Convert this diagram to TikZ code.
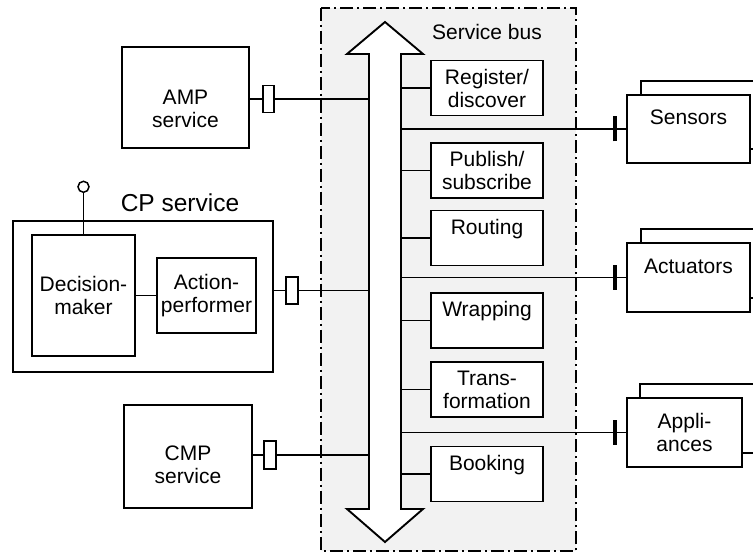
\documentclass[tikz,border=0pt]{standalone}
\usepackage{fontspec}
\setmainfont{Liberation Sans}
\usepackage{tikz}
\usetikzlibrary{positioning,shadows}

\newcommand{\boxfont}{\fontsize{21}{23}\selectfont}
\tikzset{
  box/.style={draw,line width=1.9pt,fill=white,inner sep=0pt,align=center,font=\boxfont},
  busbox/.style={box,minimum width=112pt,minimum height=55pt},
  device/.style={box,minimum width=123pt,minimum height=69pt,copy shadow={shadow xshift=14pt,shadow yshift=14pt}},
  plug/.style={draw,line width=1.5pt,fill=white,minimum width=11pt,minimum height=27pt,inner sep=0pt},
  wire/.style={line width=1.6pt},
  tbar/.style={line width=3.2pt},
}

\begin{document}
\begin{tikzpicture}[x=1pt,y=-1pt]
\useasboundingbox (0,0) rectangle (753,553);

% Service bus area
\draw[fill=black!5,line width=1.5pt,dash pattern=on 13pt off 4pt on 2pt off 4pt] (321,8) rectangle (576,551);
\node[font=\boxfont] (buslabel) at (487,32) {Service bus};

% Double arrow
\draw[line width=1.9pt,fill=white] (369,54) -- (347,54) -- (385,22) -- (423,54) -- (401,54)
  -- (401,509) -- (423,509) -- (385,542) -- (347,509) -- (369,509) -- cycle;
\coordinate (shaftL) at (369,300);
\coordinate (shaftR) at (401,300);

% Bus services
\node[busbox] (reg) at (487,88) {Register/\\discover};
\node[busbox] (pub) at (487,170.5) {Publish/\\subscribe};
\node[busbox] (rout) at (487,238) {Routing\\\mbox{}};
\node[busbox] (wrap) at (487,320.5) {Wrapping\\\mbox{}};
\node[busbox] (trans) at (487,389.5) {Trans-\\formation};
\node[busbox] (book) at (487,474) {Booking\\\mbox{}};
\foreach \b in {reg,pub,rout,wrap,trans,book}
    \draw[wire] (shaftR |- \b) -- (\b);

% Devices
\node[device,minimum height=68pt] (sensors) at (688.5,129) {Sensors\\\mbox{}};
\node[device] (actuators) at (688.5,277.5) {Actuators\\\mbox{}};
\node[device,minimum width=115pt,copy shadow={shadow xshift=13pt,shadow yshift=14pt}] (appl) at (684.5,432.5) {Appli-\\ances};
\foreach \d in {sensors,actuators,appl} {
    \draw[wire] (shaftR |- \d) -- (\d);
    \draw[tbar] ([xshift=-11pt,yshift=-12.5pt]\d.west) -- ([xshift=-11pt,yshift=12.5pt]\d.west);
}

% AMP service
\node[box,minimum width=127pt,minimum height=101pt,
  label={[align=center,font=\boxfont,yshift=-11pt]center:AMP\\service}] (amp) at (185.5,97.5) {};
\node[plug] (ampplug) at (268.5,99) {};
\draw[wire] (amp.east |- ampplug) -- (ampplug);
\draw[wire] (ampplug) -- (ampplug -| shaftL);

% CP service
\node[box,minimum width=260pt,minimum height=151pt] (cp) at (143,296.5) {};
\node[font=\fontsize{24.5}{28}\selectfont] (cplabel) at (180,203) {CP service};
\node[box,minimum width=103pt,minimum height=121pt] (dm) at (83.5,295.5) {Decision-\\maker};
\node[box,minimum width=99pt,minimum height=75pt] (ap) at (206.5,295.5) {Action-\\performer};
\draw[wire] (dm) -- (ap);
\node[circle,draw,line width=1.5pt,minimum size=11pt,inner sep=0pt,above=41pt of dm.north] (pin) {};
\draw[wire] (dm.north) -- (pin);
\node[plug,minimum width=12pt] (cpplug) at (292,290.5) {};
\draw[wire] (cp.east |- cpplug) -- (cpplug);
\draw[wire] (cpplug) -- (cpplug -| shaftL);

% CMP service
\node[box,minimum width=128pt,minimum height=103pt,
  label={[align=center,font=\boxfont,yshift=-8pt]center:CMP\\service}] (cmp) at (188,456.5) {};
\node[plug,minimum width=12pt,minimum height=28pt] (cmpplug) at (270,455) {};
\draw[wire] (cmp.east |- cmpplug) -- (cmpplug);
\draw[wire] (cmpplug) -- (cmpplug -| shaftL);
\end{tikzpicture}
\end{document}
